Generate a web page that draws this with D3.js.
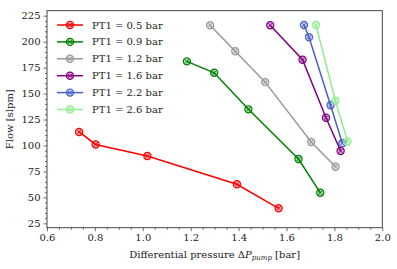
<!DOCTYPE html>
<html>
<head>
<meta charset="utf-8">
<script src="https://cdn.jsdelivr.net/npm/d3@7.9.0/dist/d3.min.js"></script>
<style>
  body { margin: 0; background: #fff; }
  text { font-family: "DejaVu Serif", "Liberation Serif", serif; fill: #222; }
</style>
</head>
<body>
<svg id="chart" width="397" height="269"></svg>
<script>
// series
const labels = ["PT1 = 0.5 bar", "PT1 = 0.9 bar", "PT1 = 1.2 bar", "PT1 = 1.6 bar", "PT1 = 2.2 bar", "PT1 = 2.6 bar"];
const colors = ["#ff0000", "#008000", "#999999", "#800080", "#4a5fc8", "#90ee90"];

const dp05 = [0.734, 0.803, 1.019, 1.393, 1.567];
const flow05 = [113, 101, 89.8, 62.6, 39.5];
const dp09 = [1.184, 1.298, 1.441, 1.650, 1.741];
const flow09 = [181, 170, 134.8, 86.9, 54.5];
const dp12 = [1.281, 1.386, 1.511, 1.703, 1.805];
const flow12 = [215.8, 190.7, 161, 103.3, 79.5];
const dp16 = [1.532, 1.667, 1.765, 1.826];
const flow16 = [215.8, 182.6, 126.7, 94.7];
const dp22 = [1.673, 1.694, 1.784, 1.833];
const flow22 = [216, 204.2, 138.7, 102.1];
const dp26 = [1.723, 1.804, 1.855];
const flow26 = [216, 143.1, 103.8];

const xTicks = [0.6, 0.8, 1.0, 1.2, 1.4, 1.6, 1.8, 2.0];
const yTicks = [25, 50, 75, 100, 125, 150, 175, 200, 225];

const series = [
  [dp05, flow05], [dp09, flow09], [dp12, flow12],
  [dp16, flow16], [dp22, flow22], [dp26, flow26]
].map(([xs, ys], i) => ({
  label: labels[i], color: colors[i],
  pts: xs.map((x, j) => ({ x: x, y: ys[j] }))
}));

const svg = d3.select("#chart");
const mLeft = 47, mRight = 382.3, mTop = 10.7, mBottom = 227.7;

const x = d3.scaleLinear().domain([0.6, 2.0]).range([mLeft, mRight]);
const y = d3.scaleLinear().domain([20.8, 229.8]).range([mBottom, mTop]);

// axes
svg.append("g").attr("transform", `translate(0,${mBottom})`)
  .call(d3.axisBottom(x).tickValues(xTicks).tickFormat(d3.format(".1f")).tickSize(3.5).tickPadding(3));
svg.append("g").attr("transform", `translate(0,${mBottom})`)
  .call(d3.axisBottom(x).tickValues(d3.range(0.65, 2.0, 0.05).filter(v => Math.abs(v * 5 - Math.round(v * 5)) > 0.01)).tickFormat("").tickSize(2));
svg.append("g").attr("transform", `translate(${mLeft},0)`)
  .call(d3.axisLeft(y).tickValues(yTicks).tickSize(3.5).tickPadding(3));
svg.append("g").attr("transform", `translate(${mLeft},0)`)
  .call(d3.axisLeft(y).tickValues(d3.range(25, 230, 5).filter(v => v % 25 !== 0)).tickFormat("").tickSize(2));

svg.selectAll(".domain").remove();
svg.selectAll(".tick line").attr("stroke", "#333").attr("stroke-width", 0.7);
svg.selectAll(".tick text").attr("font-size", 10).attr("fill", "#222");

svg.append("rect")
  .attr("x", mLeft).attr("y", mTop)
  .attr("width", mRight - mLeft).attr("height", mBottom - mTop)
  .attr("fill", "none").attr("stroke", "#333").attr("stroke-width", 0.9);

// labels
svg.append("text")
  .attr("x", (mLeft + mRight) / 2).attr("y", 258)
  .attr("text-anchor", "middle").attr("font-size", 10)
  .html('Differential pressure Δ<tspan font-style="italic">P</tspan><tspan font-style="italic" font-size="7" dy="2">pump</tspan><tspan dy="-2"> [bar]</tspan>');

svg.append("text")
  .attr("transform", `translate(13,${(mTop + mBottom) / 2}) rotate(-90)`)
  .attr("text-anchor", "middle").attr("font-size", 10)
  .text("Flow [slpm]");

function marker(g, cx, cy, color) {
  g.append("circle").attr("cx", cx).attr("cy", cy).attr("r", 3.6)
    .attr("fill", color).attr("fill-opacity", 0.35)
    .attr("stroke", color).attr("stroke-width", 1.2);
  const a = 2.2;
  g.append("path")
    .attr("d", `M${cx - a},${cy - a}L${cx + a},${cy + a}M${cx - a},${cy + a}L${cx + a},${cy - a}`)
    .attr("stroke", color).attr("stroke-width", 0.9);
}

const line = d3.line().x(d => x(d.x)).y(d => y(d.y));

series.forEach(s => {
  const g = svg.append("g");
  g.append("path").attr("d", line(s.pts))
    .attr("fill", "none").attr("stroke", s.color).attr("stroke-width", 1.5);
  s.pts.forEach(p => marker(g, x(p.x), y(p.y), s.color));
});

// legend
series.forEach((s, i) => {
  const ly = 25 + i * 16.9;
  const g = svg.append("g");
  g.append("line").attr("x1", 57).attr("x2", 83).attr("y1", ly).attr("y2", ly)
    .attr("stroke", s.color).attr("stroke-width", 1.5);
  marker(g, 70, ly, s.color);
  g.append("text").attr("x", 92).attr("y", ly + 3.5)
    .attr("font-size", 10).text(s.label);
});
</script>
</body>
</html>
